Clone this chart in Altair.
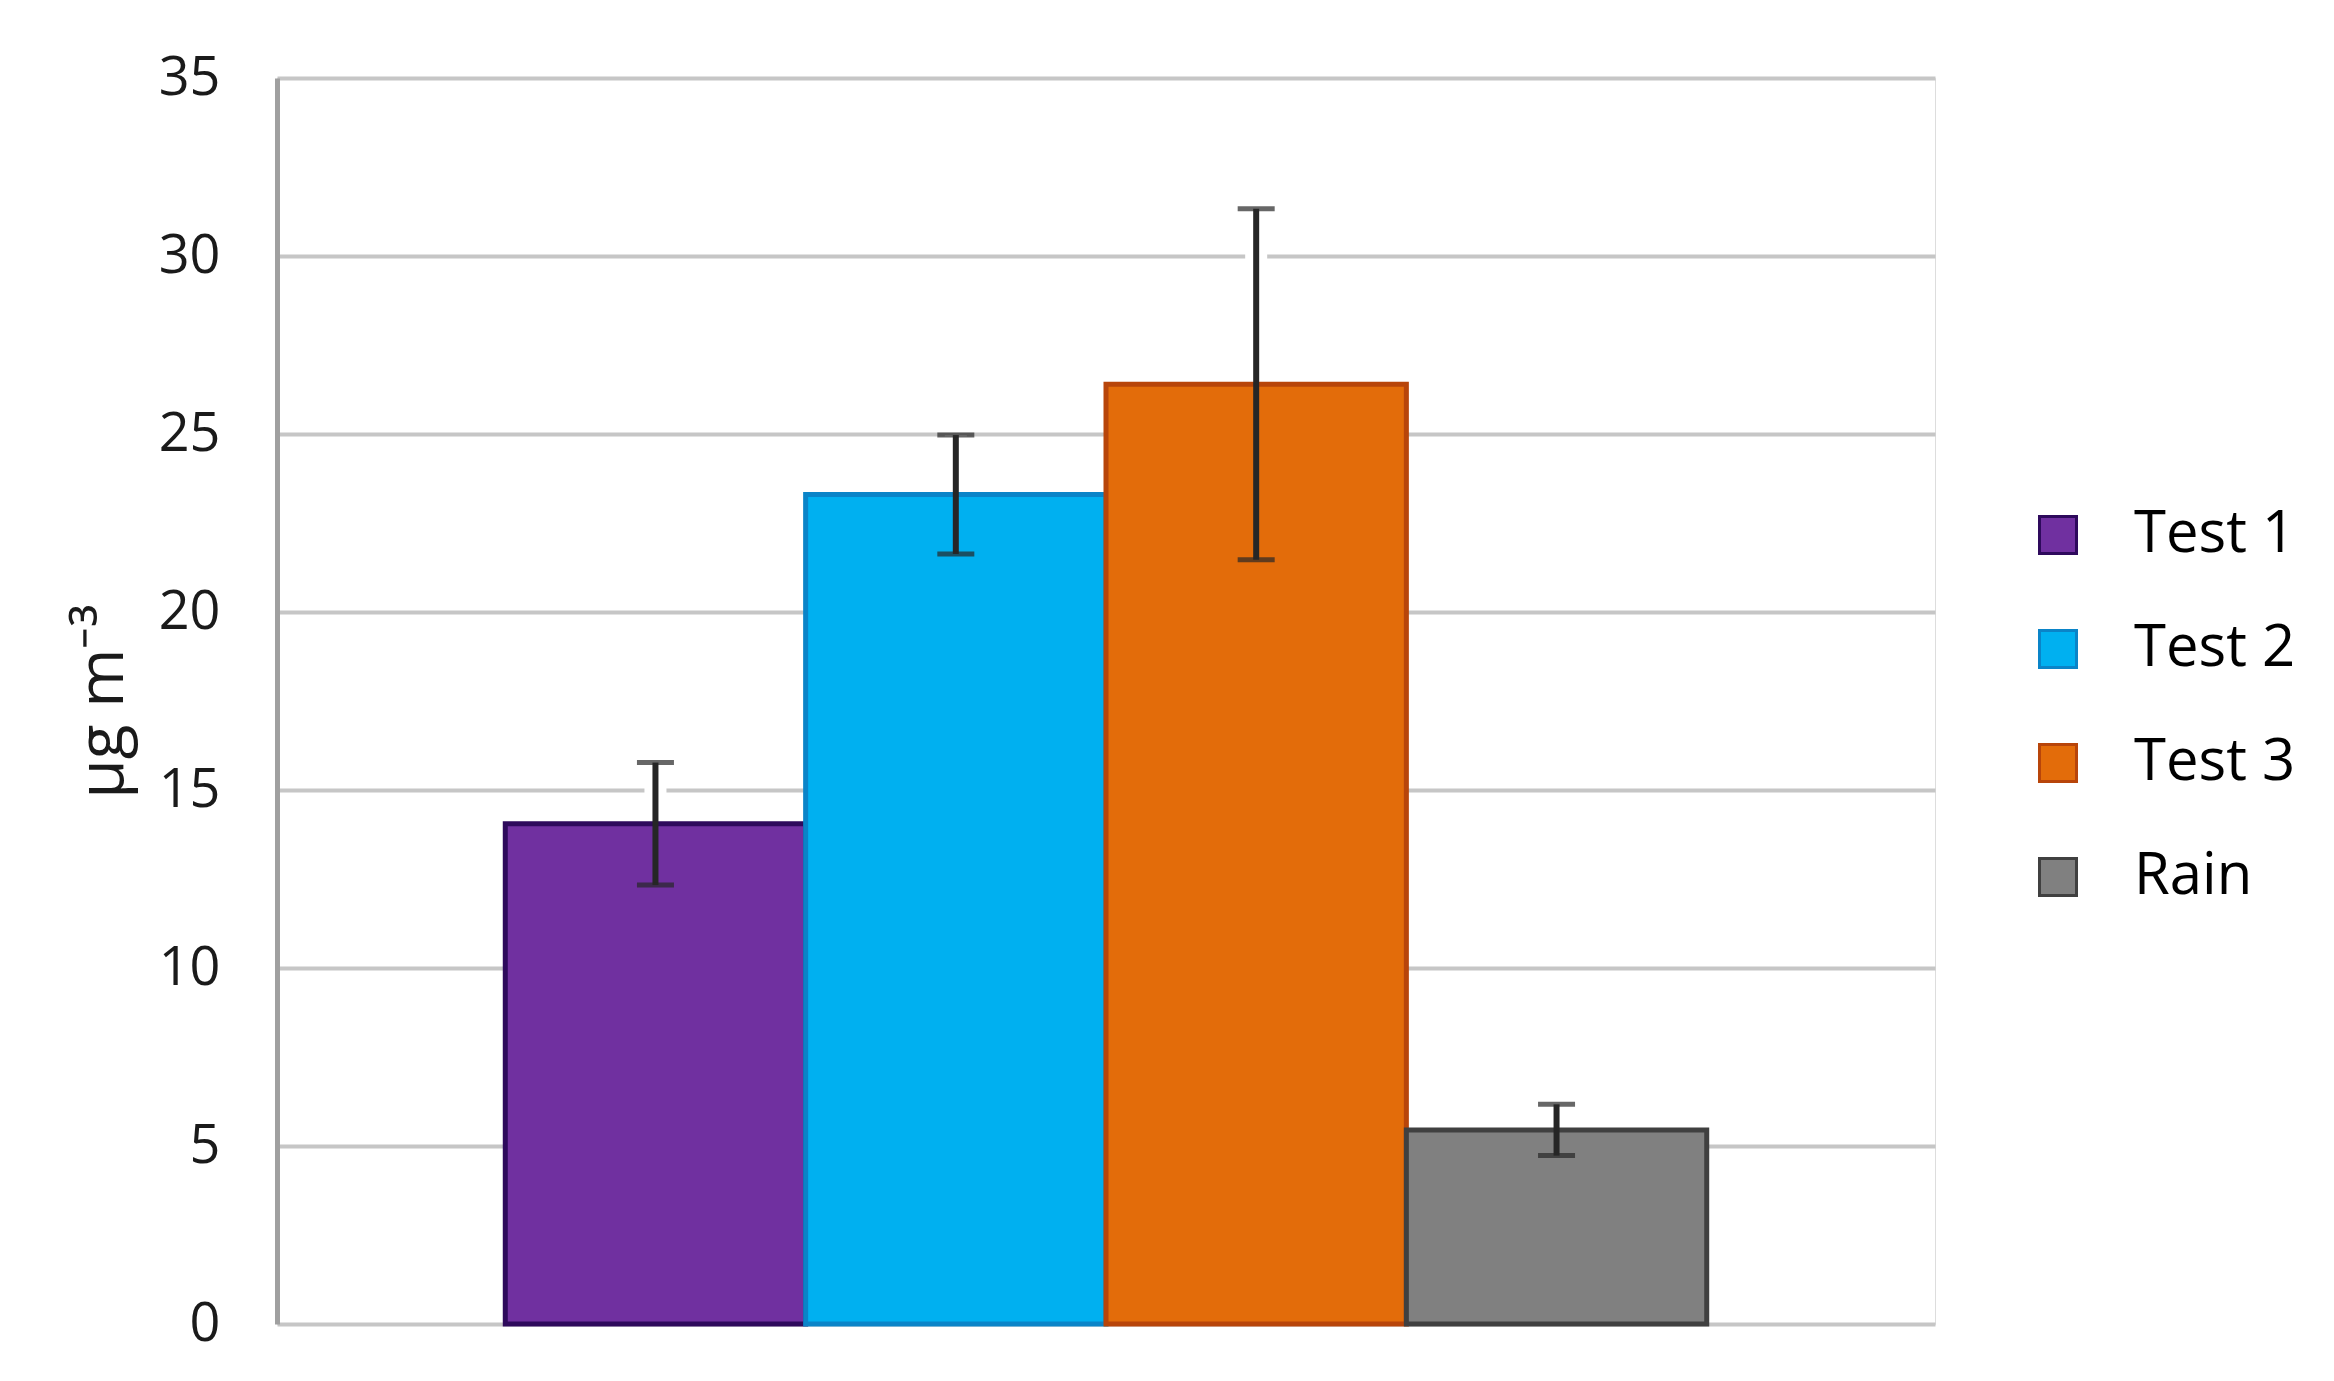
import altair as alt
import pandas as pd

categories = ["Test 1", "Test 2", "Test 3", "Rain"]
means = [14.05, 23.3, 26.4, 5.45]
errors = [1.72, 1.67, 4.93, 0.72]
fill_colors = ["#7030A0", "#00B0F0", "#E36C0A", "#808080"]
stroke_colors = ["#2E0A5C", "#0A84C8", "#B8450A", "#404040"]
y_ticks = [0, 5, 10, 15, 20, 25, 30, 35]

df = pd.DataFrame({
    "cat": categories,
    "mean": means,
    "err": errors,
})
df["lower"] = df["mean"] - df["err"]
df["upper"] = df["mean"] + df["err"]

FONT = "Open Sans"

x_enc = alt.X("cat:N", sort=categories,
              scale=alt.Scale(paddingInner=0, paddingOuter=0.76), axis=None)
y_scale = alt.Scale(domain=[0, 35], nice=False)
y_axis = alt.Axis(
    values=y_ticks, title="μg m⁻³", titleFont=FONT, titleFontSize=64,
    titleFontWeight="normal", titleColor="#1a1a1a", titleAngle=270,
    titleX=-142, titleY=623, titleAlign="center", titleBaseline="bottom",
    labelFont=FONT, labelFontSize=54, labelColor="#1a1a1a", labelPadding=57,
    ticks=False, domain=True, domainColor="#A0A0A0", domainWidth=5,
    grid=True, gridColor="#C6C6C6", gridWidth=4,
)

base = alt.Chart(df)

bars = base.mark_bar(strokeWidth=5).encode(
    x=x_enc,
    y=alt.Y("mean:Q", scale=y_scale, axis=y_axis),
    color=alt.Color("cat:N", sort=categories,
                    scale=alt.Scale(domain=categories, range=fill_colors),
                    legend=alt.Legend(
                        orient="none", legendX=1752, legendY=428,
                        direction="vertical", title=None, padding=0,
                        symbolType="square", symbolSize=1369,
                        symbolStrokeColor="rgba(0,0,0,0.45)", symbolStrokeWidth=3,
                        labelFont=FONT, labelFontSize=58, labelColor="#000000",
                        labelOffset=47, rowPadding=56, labelLimit=400,
                    )),
    stroke=alt.Stroke("cat:N", sort=categories,
                      scale=alt.Scale(domain=categories, range=stroke_colors),
                      legend=None),
)

halo = base.mark_rule(strokeWidth=22, color="white", yOffset=-4).encode(
    x=alt.X("cat:N", sort=categories),
    y=alt.Y("mean:Q", scale=y_scale, axis=y_axis),
    y2="upper:Q",
)

err = base.mark_rule(strokeWidth=6, color="#262626").encode(
    x=alt.X("cat:N", sort=categories),
    y=alt.Y("lower:Q", scale=y_scale, axis=y_axis),
    y2="upper:Q",
)

cap_hi = base.mark_tick(size=37, thickness=5, color="#262626").encode(
    x=alt.X("cat:N", sort=categories),
    y=alt.Y("upper:Q", scale=y_scale, axis=y_axis),
)
cap_lo = base.mark_tick(size=37, thickness=5, color="#262626").encode(
    x=alt.X("cat:N", sort=categories),
    y=alt.Y("lower:Q", scale=y_scale, axis=y_axis),
)

chart = alt.layer(bars, halo, err, cap_hi, cap_lo).properties(
    width=1658, height=1246,
    padding={"left": 269, "top": 70, "right": 380, "bottom": 40},
    autosize=alt.AutoSizeParams(type="none"),
).configure_view(
    stroke="#C6C6C6", strokeWidth=4,
).configure(background="white")

chart.save("out.html", embed_options={"renderer": "svg", "actions": False})
